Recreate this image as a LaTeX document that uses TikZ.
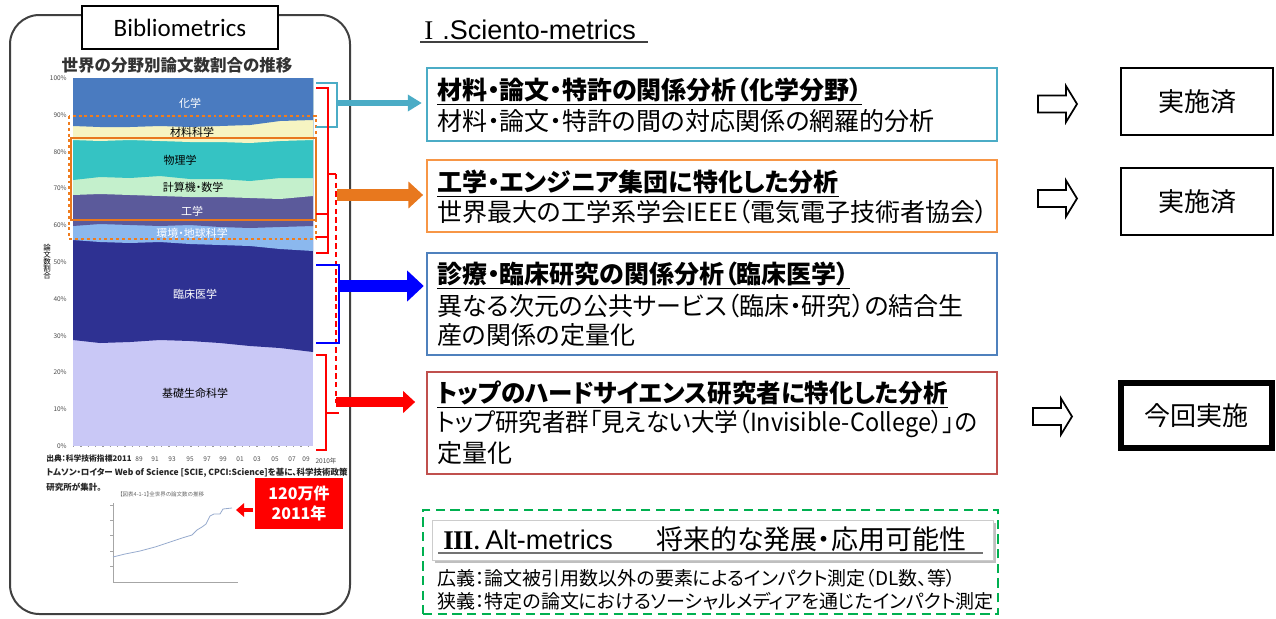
\documentclass[tikz,border=0pt]{standalone}
\usepackage{fontspec}
\usepackage{graphicx}
\setmainfont{Noto Sans CJK JP}[RawFeature={+palt}]
\newfontfamily\arialf{Liberation Sans}
\newfontfamily\carl{Carlito}
\newfontfamily\serf{Liberation Serif}
\usetikzlibrary{arrows.meta,fit}
\newcommand\px[1]{\fontsize{\fpeval{0.75*#1}pt}{\fpeval{0.9*#1}pt}\selectfont}
\definecolor{cteal}{HTML}{4BACC6}
\definecolor{corange}{HTML}{F79646}
\definecolor{cblue}{HTML}{4F81BD}
\definecolor{cred}{HTML}{C0504D}
\definecolor{cgreen}{HTML}{00B050}
\definecolor{aorange}{HTML}{E8781E}
\definecolor{dorange}{HTML}{F07D1E}
\definecolor{Lchem}{HTML}{4A7BC0}
\definecolor{Lmat}{HTML}{F6F4C2}
\definecolor{Lphys}{HTML}{35C3C3}
\definecolor{Lcomp}{HTML}{C4F0CC}
\definecolor{Leng}{HTML}{5B5A9B}
\definecolor{Lenv}{HTML}{8BB8EE}
\definecolor{Lclin}{HTML}{2E3192}
\definecolor{Lbio}{HTML}{C9C8F6}
\newcommand\layer[2]{\fill[#1] (73,78) -- #2 -- (313,78) -- cycle;}
\begin{document}
\begin{tikzpicture}[x=0.75pt,y=-0.75pt,
  frame/.style={draw, inner sep=0, line width=1.8pt},
  ttl/.style={anchor=west, inner sep=0, font=\px{25}\bfseries},
  txt/.style={anchor=west, inner sep=0, font=\px{25}},
  lbl/.style={font=\px{11}, inner sep=0},
  ylab/.style={anchor=east, font=\px{6.5}, inner sep=0, text=black!70},
  xlab/.style={font=\px{6.5}, inner sep=0, text=black!70},
  src/.style={anchor=west, font=\px{8.5}\bfseries, inner sep=0, text=black!85},
  status/.style={draw, inner sep=0, line width=1.3pt},
  stxt/.style={font=\px{26}, inner sep=0},
  bkt/.style={line width=1.6pt},
  outarrow/.pic={\draw[line width=1.3pt, fill=white] (0,-8.5) -- (28,-8.5) -- (28,-18) -- (39,0) -- (28,18) -- (28,8.5) -- (0,8.5) -- cycle;}
]
\useasboundingbox (0,0) rectangle (1276,618);

% ---------- left panel ----------
\draw[line width=1.5pt, black!75, rounded corners=22pt] (10,15) rectangle (350,614);
\node[fit={(82,6) (278,49)}, draw, line width=2pt, fill=white, inner sep=0] (biblio) {};
\node[font=\carl\px{25}, inner sep=0] at (biblio.center) {Bibliometrics};

\node[font=\px{16.5}\bfseries, text=black!80, inner sep=0] (ctitle) at (177,65) {世界の分野別論文数割合の推移};

% chart layers
\fill[Lbio] (73,78) rectangle (313,446);
\layer{Lclin}{(73,340) -- (100,343) -- (130,342) -- (160,340) -- (190,341) -- (220,343) -- (250,346) -- (280,348) -- (313,352)}
\layer{Lenv}{(73,240) -- (100,242) -- (130,243) -- (160,242) -- (190,244) -- (220,245) -- (250,246) -- (280,249) -- (313,251)}
\layer{Leng}{(73,226) -- (100,224) -- (130,225) -- (160,226) -- (190,225) -- (220,227) -- (250,228) -- (280,227) -- (313,226)}
\layer{Lcomp}{(73,195) -- (100,194) -- (130,195) -- (160,196) -- (190,197) -- (220,197) -- (250,198) -- (280,199) -- (313,196)}
\layer{Lphys}{(73,180) -- (100,177) -- (130,178) -- (160,176) -- (190,179) -- (220,179) -- (250,181) -- (280,178) -- (313,178)}
\layer{Lmat}{(73,140) -- (100,141) -- (130,140) -- (160,141) -- (190,142) -- (220,142) -- (250,143) -- (280,141) -- (313,140)}
\layer{Lchem}{(73,126) -- (100,127) -- (130,127) -- (160,126) -- (190,127) -- (220,126) -- (250,125) -- (280,121) -- (313,120)}
\draw[black!40, line width=0.5pt, dash pattern=on 1pt off 4.5pt] (73,446) -- (313,446);

\node[lbl, text=white] at (190,103) {化学};
\node[lbl] at (192,132) {材料科学};
\node[lbl] at (180,160) {物理学};
\node[lbl] at (193,187) {計算機・数学};
\node[lbl, text=white] at (192,211) {工学};
\node[lbl, text=white] at (192,233) {環境・地球科学};
\node[lbl, text=white] at (195,294) {臨床医学};
\node[lbl] at (195,393) {基礎生命科学};

% y axis labels
\node[ylab] at (67,78) {100\%};
\node[ylab] at (67,115) {90\%};
\node[ylab] at (67,152) {80\%};
\node[ylab] at (67,188) {70\%};
\node[ylab] at (67,225) {60\%};
\node[ylab] at (67,262) {50\%};
\node[ylab] at (67,299) {40\%};
\node[ylab] at (67,336) {30\%};
\node[ylab] at (67,372) {20\%};
\node[ylab] at (67,409) {10\%};
\node[ylab] at (67,446) {0\%};
\node[font=\px{7.5}, align=center, inner sep=0] (ytitle) at (47,262) {論\\[-1.5pt]文\\[-1.5pt]数\\[-1.5pt]割\\[-1.5pt]合};

% x axis labels
\node[xlab] at (139,459) {89};
\node[xlab] at (155,459) {91};
\node[xlab] at (172,459) {93};
\node[xlab] at (190,459) {95};
\node[xlab] at (207,459) {97};
\node[xlab] at (223,459) {99};
\node[xlab] at (240,459) {01};
\node[xlab] at (257,459) {03};
\node[xlab] at (275,459) {05};
\node[xlab] at (292,459) {07};
\node[xlab] at (306,459) {09};
\node[xlab] at (326,461) {2010年};

% source
\node[src, font=\px{7.8}\bfseries] (src1) at (46,459) {出典：科学技術指標2011};
\node[src] (src2) at (46,473) {トムソン・ロイター Web of Science [SCIE, CPCI:Science]を基に、科学技術政策};
\node[src] (src3) at (46,487) {研究所が集計。};

% orange dotted & solid highlight
\draw[dorange, line width=2pt, dash pattern=on 2.2pt off 2.2pt] (69,116) rectangle (316,239);
\draw[aorange, line width=2pt] (71,138) rectangle (316,220);

% small thumbnail chart
\node[font=\px{5.5}, text=black!60, inner sep=0] (thtitle) at (162,494) {【図表4-1-1】全世界の論文数の推移};
\draw[black!35, line width=0.4pt] (113,503) -- (113,582) -- (238,582);
\foreach \yy in {505,520,535,551,566} {\draw[black!35, line width=0.4pt] (110,\yy) -- (113,\yy);}
\draw[color={rgb,255:red,150;green,170;blue,205}, line width=0.6pt] (113,557) -- (125,554) -- (140,551) -- (155,547) -- (170,542) -- (182,538) -- (192,535) -- (197,530) -- (202,527) -- (206,524) -- (210,516) -- (214,514) -- (220,514) -- (223,509) -- (232,508);

% red label
\node[fit={(255,478) (343,529)}, fill=red, inner sep=0] (redbox) {};
\node[text=white, font=\px{16}\bfseries, align=center, inner sep=0] at (redbox.center) {120万件\\[1pt]2011年};
\coordinate (ra1) at (253,510);
\coordinate (ra2) at (236,510);
\draw[red, line width=3.5pt, -{Triangle[length=6pt,width=10pt]}] (ra1) -- (ra2);

% ---------- right side ----------
\node[anchor=west, inner sep=0, font=\px{27}] (sci) at (424,30) {{\serf I}\,\,{\arialf .Sciento-metrics}};
\draw[black!75, line width=1.4pt] (420,42) -- (648,42);

\node[fit={(427,68) (997,141)}, frame, draw=cteal] (box1) {};
\node[fit={(427,160) (997,232)}, frame, draw=corange] (box2) {};
\node[fit={(427,253) (997,355)}, frame, draw=cblue] (box3) {};
\node[fit={(427,372) (997,474)}, frame, draw=cred] (box4) {};

\node[ttl] (t1) at (437,90) {材料・論文・特許の関係分析（化学分野）};
\draw[line width=1pt] ([yshift=-1.5pt]t1.south west) -- ([yshift=-1.5pt]t1.south east);
\node[txt] (d1) at (437,121) {材料・論文・特許の間の対応関係の網羅的分析};

\node[ttl] (t2) at (437,182) {工学・エンジニア集団に特化した分析};
\draw[line width=1pt] ([yshift=-1.5pt]t2.south west) -- ([yshift=-1.5pt]t2.south east);
\node[txt] (d2) at (437,212) {世界最大の工学系学会IEEE（電気電子技術者協会）};

\node[ttl] (t3) at (437,274) {診療・臨床研究の関係分析（臨床医学）};
\draw[line width=1pt] ([yshift=-1.5pt]t3.south west) -- ([yshift=-1.5pt]t3.south east);
\node[txt] (d3) at (437,306) {異なる次元の公共サービス（臨床・研究）の結合生};
\node[txt] (d3b) at (437,335) {産の関係の定量化};

\node[ttl] (t4) at (437,393) {\scalebox{0.98}[1]{トップのハードサイエンス研究者に特化した分析}};
\draw[line width=1pt] ([yshift=-1.5pt]t4.south west) -- ([yshift=-1.5pt]t4.south east);
\node[txt] (d4) at (437,424) {\scalebox{0.94}[1]{トップ研究者群「見えない大学（Invisible-College）」の}};
\node[txt] (d4b) at (437,453) {定量化};

% brackets and arrows
\draw[cteal, bkt] (316,83) -- (337,83) -- (337,127) -- (316,127);
\coordinate (tealc) at (337,103);
\draw[cteal, line width=4.5pt, -{Triangle[length=10.5pt,width=12pt]}, shorten >=3pt] (tealc) -- (tealc -| box1.west);

\draw[red, bkt] (316,88) -- (328,88) -- (328,253) -- (316,253);
\draw[red, bkt] (316,214) -- (328,214);
\draw[red, bkt] (316,237) -- (328,237);
\draw[red, bkt] (328,174) -- (336,174);
\draw[red, line width=1.3pt, dash pattern=on 4pt off 2.5pt] (336,174) -- (336,403);

\coordinate (orc) at (337,195);
\draw[aorange, line width=9pt, -{Triangle[length=11pt,width=19.5pt]}, shorten >=2pt] (orc) -- (orc -| box2.west);

\draw[blue, bkt] (316,265) -- (339,265) -- (339,343) -- (316,343);
\coordinate (blc) at (339,286);
\draw[blue, line width=9pt, -{Triangle[length=12.5pt,width=22.5pt]}, shorten >=1.5pt] (blc) -- (blc -| box3.west);

\draw[red, bkt] (316,355) -- (326,355) -- (326,450) -- (316,450);
\draw[red, bkt] (326,413) -- (339,413);
\coordinate (rdc) at (336,402);
\draw[red, line width=8pt, -{Triangle[length=9pt,width=16pt]}, shorten >=8pt] (rdc) -- (rdc -| box4.west);

% status
\pic at (1038,104) {outarrow};
\pic at (1038,198.5) {outarrow};
\pic at (1033,416.5) {outarrow};
\node[fit={(1121,68) (1273,135)}, status] (s1) {};
\node[stxt] at (s1.center) {実施済};
\node[fit={(1121,168) (1273,235)}, status] (s2) {};
\node[stxt] at (s2.center) {実施済};
\node[fit={(1121,383) (1272,448)}, draw, inner sep=0, line width=4.5pt] (s3) {};
\node[stxt] at (s3.center) {今回実施};

% alt-metrics
\node[fit={(423,510) (998,614)}, draw=cgreen, inner sep=0, line width=2.2pt, dash pattern=on 7pt off 4pt] (altbox) {};
\fill[black!25] (435,523) rectangle (996,563);
\node[fit={(432,520) (993,560)}, draw=black!20, fill=white, inner sep=0] (althead) {};
\node[anchor=west, inner sep=0, font=\px{27}] (a3) at (443,539) {{\serf\bfseries I\kern-0.5pt I\kern-0.5pt I}.\,{\arialf Alt-metrics}\hspace{1.6em}将来的な発展・応用可能性};
\draw[black!55, line width=1pt] (438,553) -- (983,553);
\node[anchor=west, inner sep=0, font=\px{19}] (w1) at (437,578) {広義：論文被引用数以外の要素によるインパクト測定（DL数、等）};
\node[anchor=west, inner sep=0, font=\px{19}] (w2) at (437,601) {狭義：特定の論文におけるソーシャルメディアを通じたインパクト測定};
\end{tikzpicture}
\end{document}
